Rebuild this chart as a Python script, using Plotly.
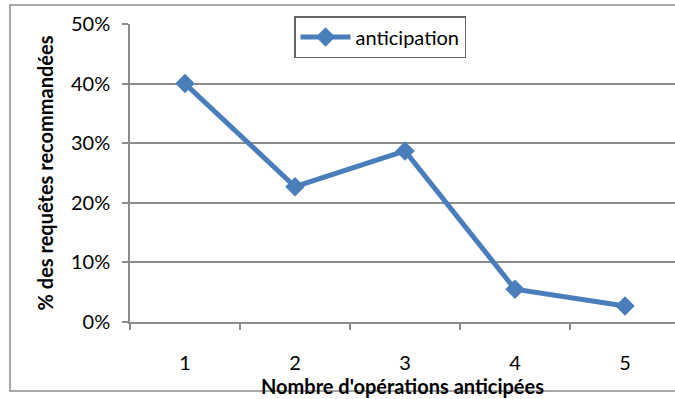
import plotly.graph_objects as go

# Data
categories = [1, 2, 3, 4, 5]
tick_labels = ["1", "2", "3", "4", "5"]
anticipation = [0.40, 0.227, 0.287, 0.055, 0.027]
y_ticks = [0, 0.1, 0.2, 0.3, 0.4, 0.5]

BLUE = "#4a7ebb"
GRID = "#8c8c8c"
FONT = "Lato"
FS = 20

fig = go.Figure()
fig.add_trace(go.Scatter(
    x=categories,
    y=anticipation,
    mode="lines+markers",
    name="anticipation",
    line=dict(color=BLUE, width=5),
    marker=dict(symbol="diamond", size=15, color=BLUE),
))

W, H = 675, 399
L, T, B = 130, 24, 77
plot_w = W - L
plot_h = H - T - B
cat_w = 110.0

fig.update_layout(
    width=W,
    height=H,
    margin=dict(l=L, r=0, t=T, b=B, pad=0),
    paper_bgcolor="white",
    plot_bgcolor="white",
    font=dict(family=FONT, size=FS, color="black"),
    showlegend=True,
    legend=dict(
        x=(294 - L) / plot_w,
        y=(H - B - 16) / plot_h,
        xanchor="left",
        yanchor="top",
        bgcolor="white",
        bordercolor="#666666",
        borderwidth=1.5,
        font=dict(family=FONT, size=FS),
        itemwidth=50,
    ),
    xaxis=dict(
        range=[0.5, 0.5 + plot_w / cat_w],
        tickvals=categories,
        ticktext=tick_labels,
        ticks="",
        ticklabelstandoff=22,
        showgrid=False,
        zeroline=False,
        showline=True,
        linecolor=GRID,
        linewidth=1.5,
        minor=dict(
            tickvals=[0.5, 1.5, 2.5, 3.5, 4.5],
            ticks="outside",
            ticklen=6,
            tickcolor=GRID,
            tickwidth=1.5,
            showgrid=False,
        ),
        title=dict(
            text="<b>Nombre d'opérations anticipées</b>",
            font=dict(family=FONT, size=FS),
            standoff=0,
        ),
        fixedrange=True,
    ),
    yaxis=dict(
        range=[0, 0.5],
        tickvals=y_ticks,
        tickformat=".0%",
        ticks="outside",
        ticklen=6,
        tickcolor=GRID,
        tickwidth=1.5,
        ticklabelstandoff=8,
        showgrid=True,
        gridcolor=GRID,
        gridwidth=1.5,
        zeroline=False,
        showline=True,
        linecolor=GRID,
        linewidth=1.5,
        title=dict(
            text="<b>% des requêtes recommandées</b>",
            font=dict(family=FONT, size=FS),
            standoff=12,
        ),
        fixedrange=True,
    ),
)

# Outer chart frame
fig.add_shape(
    type="rect",
    xref="paper", yref="paper",
    x0=(10 - L) / plot_w, x1=(720 - L) / plot_w,
    y0=(H - B - 391) / plot_h, y1=(H - B - 5) / plot_h,
    line=dict(color="#8c8c8c", width=1.5),
    fillcolor="rgba(0,0,0,0)",
    layer="below",
)

fig.write_html("out.html")
